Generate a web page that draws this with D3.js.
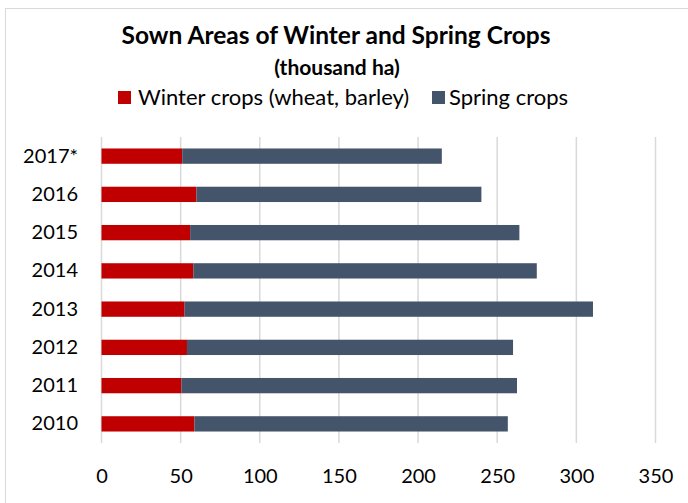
<!DOCTYPE html>
<html>
<head>
<meta charset="utf-8">
<script src="https://cdn.jsdelivr.net/npm/d3@7"></script>
<style>
  body { margin: 0; background: #fff; }
  text { font-family: Lato, "Open Sans", sans-serif; fill: #000; }
</style>
</head>
<body>
<div id="chart"></div>
<script>
// values (thousand ha)
var years = ["2017*", "2016", "2015", "2014", "2013", "2012", "2011", "2010"];
var winterCrops = [51, 60, 56, 58, 52.5, 54, 50.5, 58.7];
var springCrops = [164, 180, 208, 217, 258, 206, 212, 198];
var xTicks = [0, 50, 100, 150, 200, 250, 300, 350];
var seriesNames = ["Winter crops (wheat, barley)", "Spring crops"];
var colors = ["#c00000", "#44546a"];

var width = 688, height = 503;

var svg = d3.select("#chart").append("svg")
    .attr("width", width)
    .attr("height", height);

svg.append("rect")
    .attr("x", 5.5).attr("y", 8.5)
    .attr("width", 720).attr("height", 600)
    .attr("fill", "#fff")
    .attr("stroke", "#d9d9d9");

var x = d3.scaleLinear().domain([0, 350]).range([101.5, 655.5]);
var y = d3.scaleBand().domain(years).range([137, 443])
    .paddingInner(0.6).paddingOuter(0.3);

// gridlines
svg.append("g").selectAll("line")
    .data(xTicks)
    .enter().append("line")
    .attr("x1", function (d) { return x(d); })
    .attr("x2", function (d) { return x(d); })
    .attr("y1", 137).attr("y2", 443)
    .attr("stroke", "#d9d9d9")
    .attr("stroke-width", 1.5);

// x axis labels
var xAxis = svg.append("g")
    .attr("transform", "translate(0,483)")
    .call(d3.axisBottom(x).tickValues(xTicks).tickSize(0).tickPadding(0));
xAxis.select(".domain").remove();
xAxis.selectAll("text")
    .attr("dy", null)
    .attr("y", 0)
    .style("font-size", "20px")
    .style("font-family", "Lato, sans-serif");

// y axis labels
var yAxis = svg.append("g")
    .attr("transform", "translate(78,0)")
    .call(d3.axisLeft(y).tickSize(0).tickPadding(0));
yAxis.select(".domain").remove();
yAxis.selectAll("text")
    .style("font-size", "20px")
    .style("font-family", "Lato, sans-serif");

// stacked bars
var rows = years.map(function (yr, i) {
    return { year: yr, winter: winterCrops[i], spring: springCrops[i] };
});
var stack = d3.stack().keys(["winter", "spring"])(rows);

svg.append("g").selectAll("g")
    .data(stack)
    .enter().append("g")
    .attr("fill", function (d, i) { return colors[i]; })
    .selectAll("rect")
    .data(function (d) { return d; })
    .enter().append("rect")
    .attr("x", function (d) { return x(d[0]); })
    .attr("width", function (d) { return x(d[1]) - x(d[0]); })
    .attr("y", function (d) { return y(d.data.year); })
    .attr("height", y.bandwidth());

// titles
svg.append("text")
    .attr("x", 336).attr("y", 44)
    .attr("text-anchor", "middle")
    .style("font-size", "24.5px")
    .style("font-weight", "bold")
    .text("Sown Areas of Winter and Spring Crops");

svg.append("text")
    .attr("x", 337).attr("y", 75)
    .attr("text-anchor", "middle")
    .style("font-size", "21px")
    .style("font-weight", "bold")
    .text("(thousand ha)");

// legend
var legendX = [118, 432];
var legend = svg.append("g").selectAll("g")
    .data(seriesNames)
    .enter().append("g")
    .attr("transform", function (d, i) { return "translate(" + legendX[i] + ",91)"; });
legend.append("rect")
    .attr("width", 13).attr("height", 13)
    .attr("fill", function (d, i) { return colors[i]; });
legend.append("text")
    .attr("x", function (d, i) { return i == 0 ? 20 : 17; })
    .attr("y", 14)
    .style("font-size", "22px")
    .text(function (d) { return d; });
</script>
</body>
</html>
